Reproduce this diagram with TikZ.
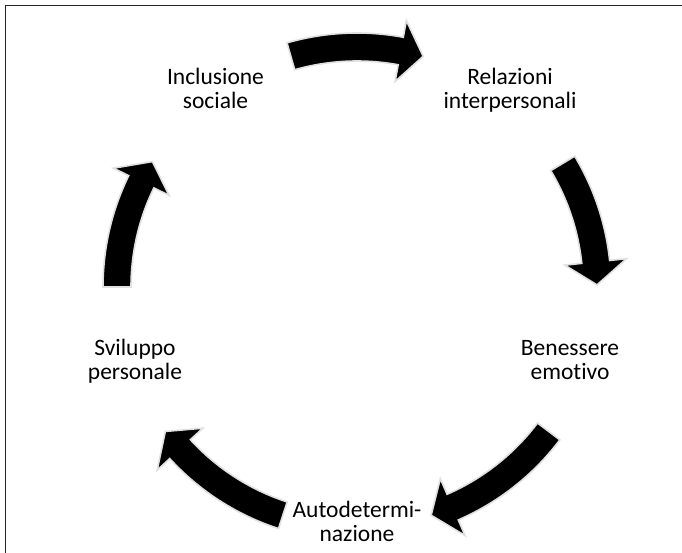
\documentclass[tikz,border=0pt]{standalone}
\usepackage{fontspec}
\setmainfont{Carlito}[RawFeature={-liga;-clig;-dlig}]
\usetikzlibrary{calc}
\tikzset{
  cycarrow/.style={fill=black, draw=black!12, line width=1.6pt, line join=miter},
  lbl/.style={align=center, anchor=base, inner sep=0pt, font=\fontsize{23.5}{24}\selectfont},
  frameline/.style={draw=black!85, line width=1.6pt}
}
\newcommand\cycarr[2]{%
  \filldraw[cycarrow] ($(C)+(#1:254pt)$) arc[start angle=#1, end angle=#2+5.5, radius=254pt]
    -- ($(C)+(#2+5.5:271pt)$) -- ($(C)+(#2:240pt)$) -- ($(C)+(#2+5.5:209pt)$)
    -- ($(C)+(#2+5.5:226pt)$) arc[start angle=#2+5.5, end angle=#1, radius=226pt] -- cycle;}
\begin{document}
\begin{tikzpicture}[x=1pt,y=1pt]
\useasboundingbox (0,0) rectangle (682,552);
\clip (0,0) rectangle (682,552);
\fill[white] (0,0) rectangle (682,552);
\draw[frameline] (5.5,-10) -- (5.5,546.5) -- (700,546.5);
\coordinate (C) at (357,265);
\cycarr{106}{74}
\cycarr{31}{0.5}
\cycarr{-37}{-72}
\cycarr{-108}{-143}
\cycarr{180}{148.5}
\node[lbl] (incl) at (215.5,443) {Inclusione\\sociale};
\node[lbl] (rel) at (510,443) {Relazioni\\interpersonali};
\node[lbl] (ben) at (570,173) {Benessere\\emotivo};
\node[lbl] (auto) at (357,11) {Autodetermi-\\nazione};
\node[lbl] (svil) at (135,173) {Sviluppo\\personale};
\end{tikzpicture}
\end{document}
